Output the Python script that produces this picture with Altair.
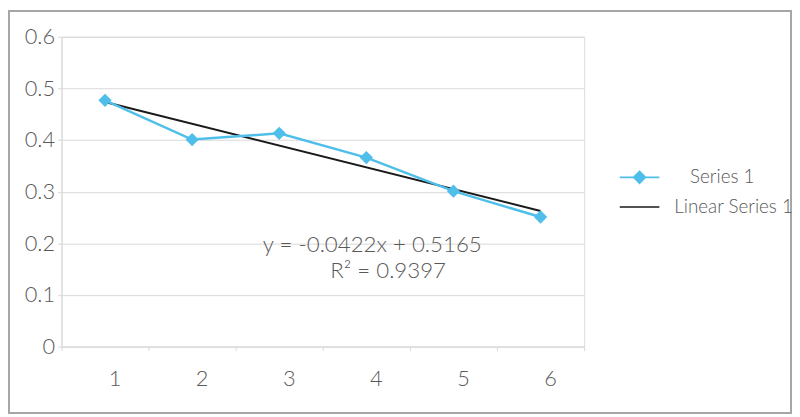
import altair as alt
import pandas as pd

# ---- data ----
x_vals = [1, 2, 3, 4, 5, 6]
series1 = [0.477, 0.401, 0.413, 0.366, 0.301, 0.251]
y_ticks = [0, 0.1, 0.2, 0.3, 0.4, 0.5, 0.6]
series_names = ["Series 1", "Linear Series 1"]
equation_text = "y = -0.0422x + 0.5165"
r2_text = "R\u00b2 = 0.9397"

BLUE = "#4FBFEA"
BLACK = "#1a1a1a"
GRID = "#d9d9d9"
TXT = "#595959"
FONT = "Lato"

W, H = 528, 313
PAD = {"left": 54, "top": 27, "right": 210, "bottom": 68}

df = pd.DataFrame({"x": x_vals, "y": series1})

is_s1 = "datum.value === 'Series 1'"
color = alt.Color(
    "series:N",
    scale=alt.Scale(domain=series_names, range=[BLUE, BLACK]),
    legend=alt.Legend(
        title=None,
        orient="none",
        legendX=573,
        legendY=131,
        symbolSize=400,
        symbolType=alt.ExprRef(expr=is_s1 + " ? 'M-2,0L2,0M0,-0.6L0.6,0L0,0.6L-0.6,0Z' : 'M-2,0L2,0'"),
        symbolFillColor=alt.ExprRef(expr=is_s1 + " ? '" + BLUE + "' : 'transparent'"),
        symbolStrokeColor=alt.ExprRef(expr=is_s1 + " ? '" + BLUE + "' : '" + BLACK + "'"),
        symbolStrokeWidth=1.6,
        symbolOpacity=1,
        labelOffset=alt.ExprRef(expr=is_s1 + " ? 40 : 24"),
        labelFontSize=19,
        labelFont=FONT,
        labelFontWeight=300,
        labelColor=TXT,
        rowPadding=9,
    ),
)

x_enc = alt.X(
    "x:O",
    scale=alt.Scale(paddingInner=0, paddingOuter=0),
    axis=alt.Axis(
        title=None, labelAngle=0, tickBand="extent", grid=False,
        domainColor=GRID, tickColor=GRID, tickSize=4, labelPadding=28,
        labelOffset=16,
        labelFontSize=22, labelColor=TXT, labelFont=FONT, labelFontWeight=300,
    ),
)
y_enc = alt.Y(
    "y:Q",
    scale=alt.Scale(domain=[0, 0.6], nice=False),
    axis=alt.Axis(
        title=None, values=y_ticks, format=".1~f",
        gridColor=GRID, domainColor=GRID, tickColor=GRID, tickSize=4,
        labelPadding=3, labelFontSize=22, labelColor=TXT, labelFont=FONT,
        labelFontWeight=300,
    ),
)

base = alt.Chart(df)

series_line = base.mark_line(strokeWidth=2.5).encode(
    x=x_enc, y=y_enc, color=color
).transform_calculate(series="'Series 1'")

series_pts = base.mark_point(shape="diamond", filled=True, size=180, opacity=1).encode(
    x="x:O", y="y:Q", color=color
).transform_calculate(series="'Series 1'")

trend = base.transform_regression("x", "y", method="linear").transform_calculate(
    series="'Linear Series 1'"
).mark_line(strokeWidth=2).encode(x="x:O", y="y:Q", color=color)

one = pd.DataFrame({"a": [0]})
eq1 = alt.Chart(one).mark_text(
    fontSize=22.5, font=FONT, color=TXT, align="center", baseline="middle", fontWeight=300
).encode(x=alt.value(314), y=alt.value(210), text=alt.value(equation_text))
eq2 = alt.Chart(one).mark_text(
    fontSize=22.5, font=FONT, color=TXT, align="center", baseline="middle", fontWeight=300
).encode(x=alt.value(330), y=alt.value(237), text=alt.value(r2_text))

border = alt.Chart(one).mark_rect(
    fill="transparent", stroke="#a6a6a6", strokeWidth=2
).encode(
    x=alt.value(-PAD["left"] + 1), x2=alt.value(W + PAD["right"] - 1),
    y=alt.value(-PAD["top"] + 1), y2=alt.value(H + PAD["bottom"] - 1),
)

chart = alt.layer(trend, series_line, series_pts, eq1, eq2, border).properties(
    width=W, height=H,
    autosize=alt.AutoSizeParams(type="none"),
    padding=PAD,
).configure_view(stroke=GRID, strokeWidth=1).configure(background="white")

chart.save("out.html", embed_options={"renderer": "svg", "actions": False})
